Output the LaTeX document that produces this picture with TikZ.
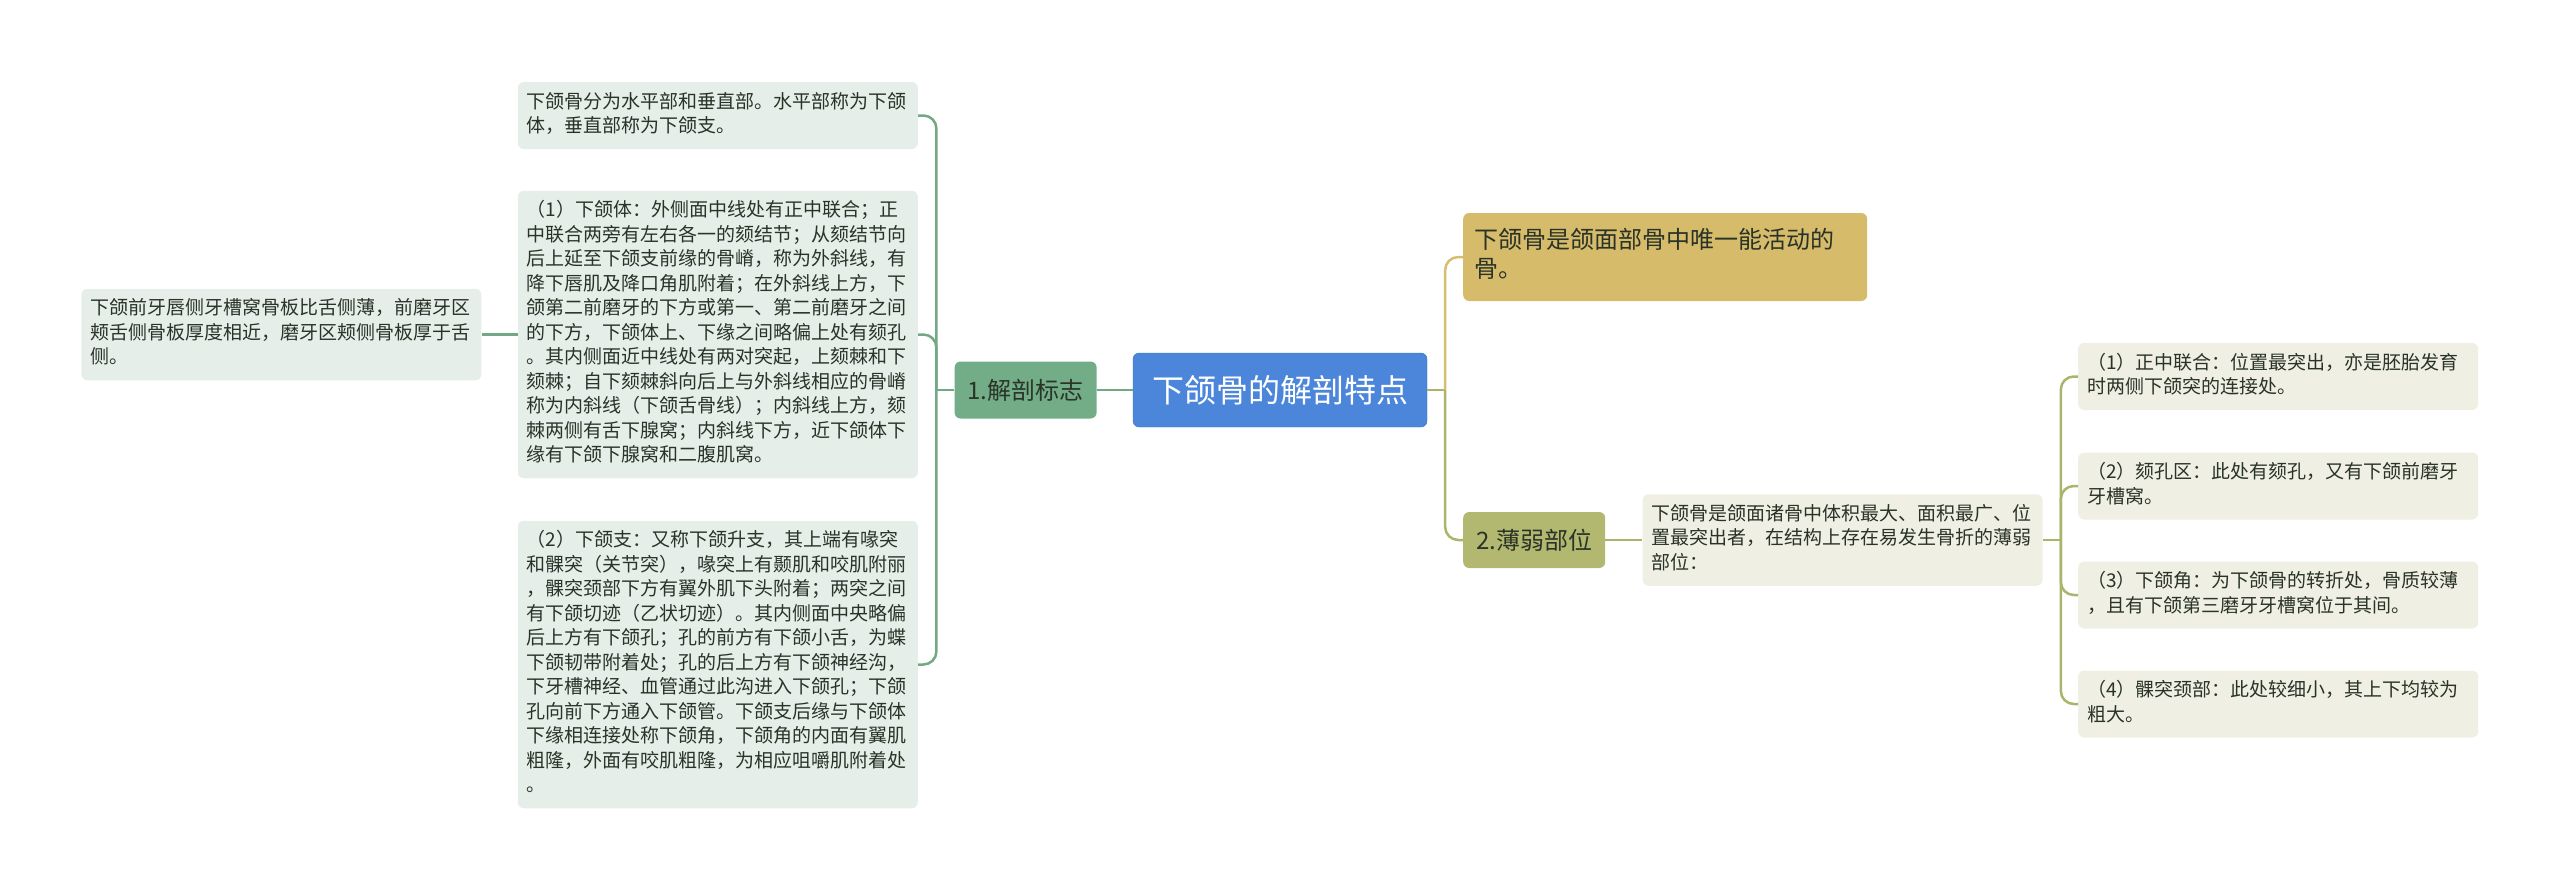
\documentclass[tikz,border=0pt]{standalone}
\usepackage{fontspec}
\setmainfont{Noto Sans CJK SC}
\usepackage{tikz}
\usetikzlibrary{positioning}
\definecolor{rootblue}{HTML}{4B86DA}
\definecolor{landgreen}{HTML}{72AD87}
\definecolor{greenline}{HTML}{72A984}
\definecolor{notegreen}{HTML}{E5EEE8}
\definecolor{goldfill}{HTML}{D5BB6A}
\definecolor{goldline}{HTML}{D5BF6E}
\definecolor{olivefill}{HTML}{B3B871}
\definecolor{oliveline}{HTML}{AAB46B}
\definecolor{noteolive}{HTML}{EFEFE3}
\definecolor{inkdark}{HTML}{2A3328}
\tikzset{
    base/.style={rounded corners=6pt, text=inkdark, inner sep=0pt},
    rootbox/.style={base, draw=rootblue!85!black, thin, fill=rootblue, text=white,
        font=\fontsize{32pt}{38pt}\selectfont, minimum width=294pt, minimum height=74pt},
    mainbox/.style={base, font=\fontsize{24pt}{29pt}\selectfont, minimum width=142pt, minimum height=57pt},
    notebox/.style={base, align=left, text width=382pt, inner xsep=9pt, inner ysep=9pt,
        font=\fontsize{19pt}{24.5pt}\selectfont,
        execute at begin node=\strut, execute at end node=\strut},
    notegreen/.style={notebox, fill=notegreen},
    noteolive/.style={notebox, fill=noteolive},
    notegold/.style={notebox, fill=goldfill, text width=382pt, inner xsep=11pt, inner ysep=15pt,
        font=\fontsize{24pt}{29pt}\selectfont},
    gline/.style={draw=greenline, line width=2.5pt, rounded corners=13pt},
    oline/.style={draw=oliveline, line width=2.5pt, rounded corners=13pt},
    yline/.style={draw=goldline, line width=2.5pt, rounded corners=13pt}
}
\begin{document}
\begin{tikzpicture}[x=1pt, y=-1pt, node distance=36pt]
    \useasboundingbox (0,0) rectangle (2560,891);

    \node [rootbox] (Root) at (1280,390) {下颌骨的解剖特点};
    \node [mainbox, fill=landgreen, left=36pt of Root] (Landmark) {1.解剖标志};
    \node [notegold, anchor=west] (Mobile) at (1463,257) {下颌骨是颌面部骨中唯一能活动的\\骨。};
    \node [mainbox, fill=olivefill, minimum height=56pt, anchor=west] (Weak) at (1463,540) {2.薄弱部位};

    \node [notegreen, anchor=east] (Parts) at (918,115.5) {下颌骨分为水平部和垂直部。水平部称为下颌\\体，垂直部称为下颌支。};
    \node [notegreen, anchor=east] (Body) at (918,334.5) {（1）下颌体：外侧面中线处有正中联合；正\\
        中联合两旁有左右各一的颏结节；从颏结节向\\
        后上延至下颌支前缘的骨嵴，称为外斜线，有\\
        降下唇肌及降口角肌附着；在外斜线上方，下\\
        颌第二前磨牙的下方或第一、第二前磨牙之间\\
        的下方，下颌体上、下缘之间略偏上处有颏孔\\
        。其内侧面近中线处有两对突起，上颏棘和下\\
        颏棘；自下颏棘斜向后上与外斜线相应的骨嵴\\
        称为内斜线（下颌舌骨线）；内斜线上方，颏\\
        棘两侧有舌下腺窝；内斜线下方，近下颌体下\\
        缘有下颌下腺窝和二腹肌窝。};
    \node [notegreen, anchor=east] (Ramus) at (918,664.5) {（2）下颌支：又称下颌升支，其上端有喙突\\
        和髁突（关节突），喙突上有颞肌和咬肌附丽\\
        ，髁突颈部下方有翼外肌下头附着；两突之间\\
        有下颌切迹（乙状切迹）。其内侧面中央略偏\\
        后上方有下颌孔；孔的前方有下颌小舌，为蝶\\
        下颌韧带附着处；孔的后上方有下颌神经沟，\\
        下牙槽神经、血管通过此沟进入下颌孔；下颌\\
        孔向前下方通入下颌管。下颌支后缘与下颌体\\
        下缘相连接处称下颌角，下颌角的内面有翼肌\\
        粗隆，外面有咬肌粗隆，为相应咀嚼肌附着处\\
        。};
    \node [notegreen, left=36pt of Body] (Plate) {下颌前牙唇侧牙槽窝骨板比舌侧薄，前磨牙区\\颊舌侧骨板厚度相近，磨牙区颊侧骨板厚于舌\\侧。};

    \node [noteolive, right=37pt of Weak] (WeakDesc) {下颌骨是颌面诸骨中体积最大、面积最广、位\\置最突出者，在结构上存在易发生骨折的薄弱\\部位：};
    \node [noteolive, anchor=west] (Symph) at (2078,376.5) {（1）正中联合：位置最突出，亦是胚胎发育\\时两侧下颌突的连接处。};
    \node [noteolive, anchor=west] (Foramen) at (2078,486) {（2）颏孔区：此处有颏孔，又有下颌前磨牙\\牙槽窝。};
    \node [noteolive, anchor=west] (Angle) at (2078,595) {（3）下颌角：为下颌骨的转折处，骨质较薄\\，且有下颌第三磨牙牙槽窝位于其间。};
    \node [noteolive, anchor=west] (Neck) at (2078,704) {（4）髁突颈部：此处较细小，其上下均较为\\粗大。};

    \coordinate [left=18pt of Landmark] (LandJ);
    \coordinate [right=18pt of Root] (RootJ);
    \coordinate [right=18pt of WeakDesc] (DescJ);

    \draw [gline] (Root) -- (Landmark);
    \draw [gline] (Landmark) -- (LandJ);
    \draw [gline] (LandJ) |- (Parts);
    \draw [gline] (LandJ) |- (Body);
    \draw [gline] (LandJ) |- (Ramus);
    \draw [gline] (Body) -- (Plate);

    \draw [oline] (Root) -- (RootJ);
    \draw [yline] (RootJ) |- (Mobile);
    \draw [oline] (RootJ) |- (Weak);
    \draw [oline] (Weak) -- (WeakDesc);
    \draw [oline] (WeakDesc) -- (DescJ);
    \draw [oline] (DescJ) |- (Symph);
    \draw [oline] (DescJ) |- (Foramen);
    \draw [oline] (DescJ) |- (Angle);
    \draw [oline] (DescJ) |- (Neck);
\end{tikzpicture}
\end{document}
